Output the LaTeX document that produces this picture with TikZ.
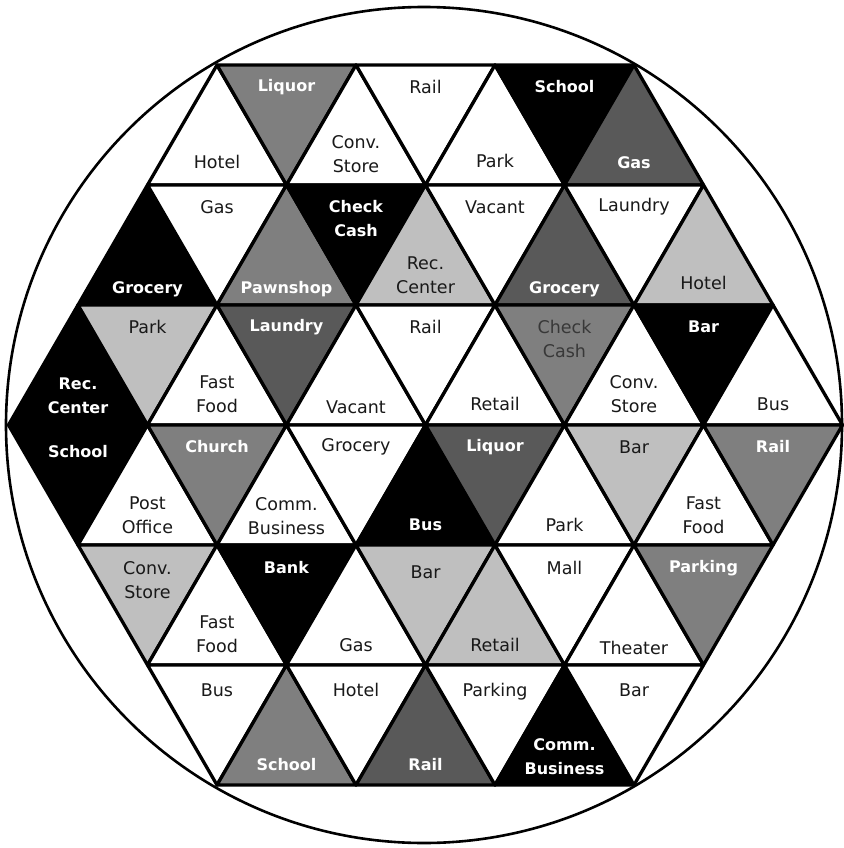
\documentclass[tikz,border=0pt]{standalone}
\usepackage{fontspec}
\setmainfont{DejaVu Sans}
\definecolor{lgray}{HTML}{BFBFBF}
\definecolor{mgray}{HTML}{7F7F7F}
\definecolor{dgray}{HTML}{595959}
\tikzset{
  cell/.style={draw=black, line width=3.3pt, line join=round},
  wt/.style={cell, fill=white},
  lg/.style={cell, fill=lgray},
  mg/.style={cell, fill=mgray},
  dg/.style={cell, fill=dgray},
  bk/.style={cell, fill=black},
  cc/.style={cell, fill=mgray},
  lab/.style={inner sep=0pt, align=center},
  txt wt/.style={lab, text=black!90, font=\fontsize{17.5}{24}\selectfont},
  txt lg/.style={lab, text=black!90, font=\fontsize{17.5}{24}\selectfont},
  txt mg/.style={lab, text=white, font=\fontsize{16}{24}\selectfont\bfseries},
  txt dg/.style={lab, text=white, font=\fontsize{16}{24}\selectfont\bfseries},
  txt bk/.style={lab, text=white, font=\fontsize{16}{24}\selectfont\bfseries},
  txt cc/.style={lab, text=black!78, font=\fontsize{17.5}{24}\selectfont},
  ring/.style={draw=black, line width=2.6pt},
}
% up triangle: row, j, fill, offset from base, text
\newcommand\TU[5]{%
  \pgfmathsetmacro\xx{425.5+69.5*(#2)}%
  \pgfmathsetmacro\yt{-65-120*(#1)}%
  \pgfmathsetmacro\yb{\yt-120}%
  \path[#3] (\xx,\yt) -- (\xx-69.5,\yb) -- (\xx+69.5,\yb) -- cycle;
  \node[txt #3] at (\xx,\yb+#4) {#5};
}
% down triangle: row, j, fill, offset from top, text
\newcommand\TD[5]{%
  \pgfmathsetmacro\xx{425.5+69.5*(#2)}%
  \pgfmathsetmacro\yt{-65-120*(#1)}%
  \pgfmathsetmacro\yb{\yt-120}%
  \path[#3] (\xx-69.5,\yt) -- (\xx+69.5,\yt) -- (\xx,\yb) -- cycle;
  \node[txt #3] at (\xx,\yt-#4) {#5};
}
\begin{document}
\begin{tikzpicture}[x=1pt,y=1pt]
\useasboundingbox (0,0) rectangle (843,-848);
\fill[white] (0,0) rectangle (843,-848);
% row 0
\TU{0}{-3}{wt}{23}{Hotel}
\TD{0}{-2}{mg}{22}{Liquor}
\TU{0}{-1}{wt}{31}{Conv.\\Store}
\TD{0}{0}{wt}{22}{Rail}
\TU{0}{1}{wt}{24}{Park}
\TD{0}{2}{bk}{22}{School}
\TU{0}{3}{dg}{22}{Gas}
% row 1
\TU{1}{-4}{bk}{16}{Grocery}
\TD{1}{-3}{wt}{22}{Gas}
\TU{1}{-2}{mg}{16}{Pawnshop}
\TD{1}{-1}{bk}{33.5}{Check\\Cash}
\TU{1}{0}{lg}{29.5}{Rec.\\Center}
\TD{1}{1}{wt}{22}{Vacant}
\TU{1}{2}{dg}{16}{Grocery}
\TD{1}{3}{wt}{22}{Laundry}
\TU{1}{4}{lg}{22}{Hotel}
% row 2
\TU{2}{-5}{bk}{29.5}{Rec.\\Center}
\TD{2}{-4}{lg}{22}{Park}
\TU{2}{-3}{wt}{30.5}{Fast\\Food}
\TD{2}{-2}{dg}{22}{Laundry}
\TU{2}{-1}{wt}{18}{Vacant}
\TD{2}{0}{wt}{22}{Rail}
\TU{2}{1}{wt}{21}{Retail}
\TD{2}{2}{cc}{34}{Check\\Cash}
\TU{2}{3}{wt}{30.5}{Conv.\\Store}
\TD{2}{4}{bk}{22}{Bar}
\TU{2}{5}{wt}{21}{Bus}
% row 3
\TD{3}{-5}{bk}{27}{School}
\TU{3}{-4}{wt}{29.5}{Post\\Office}
\TD{3}{-3}{mg}{22}{Church}
\TU{3}{-2}{wt}{28.5}{Comm.\\Business}
\TD{3}{-1}{wt}{22}{Grocery}
\TU{3}{0}{bk}{20}{Bus}
\TD{3}{1}{dg}{22}{Liquor}
\TU{3}{2}{wt}{20}{Park}
\TD{3}{3}{lg}{22}{Bar}
\TU{3}{4}{wt}{30}{Fast\\Food}
\TD{3}{5}{mg}{22}{Rail}
% row 4
\TD{4}{-4}{lg}{35.5}{Conv.\\Store}
\TU{4}{-3}{wt}{30.5}{Fast\\Food}
\TD{4}{-2}{bk}{23}{Bank}
\TU{4}{-1}{wt}{20}{Gas}
\TD{4}{0}{lg}{27}{Bar}
\TU{4}{1}{lg}{20}{Retail}
\TD{4}{2}{wt}{23}{Mall}
\TU{4}{3}{wt}{17}{Theater}
\TD{4}{4}{mg}{23}{Parking}
% row 5
\TD{5}{-3}{wt}{25}{Bus}
\TU{5}{-2}{mg}{20}{School}
\TD{5}{-1}{wt}{25}{Hotel}
\TU{5}{0}{dg}{20}{Rail}
\TD{5}{1}{wt}{27}{Parking}
\TU{5}{2}{bk}{28.5}{Comm.\\Business}
\TD{5}{3}{wt}{25}{Bar}
% outer circle
\draw[ring] (424,-425) circle[radius=418];
\end{tikzpicture}
\end{document}
